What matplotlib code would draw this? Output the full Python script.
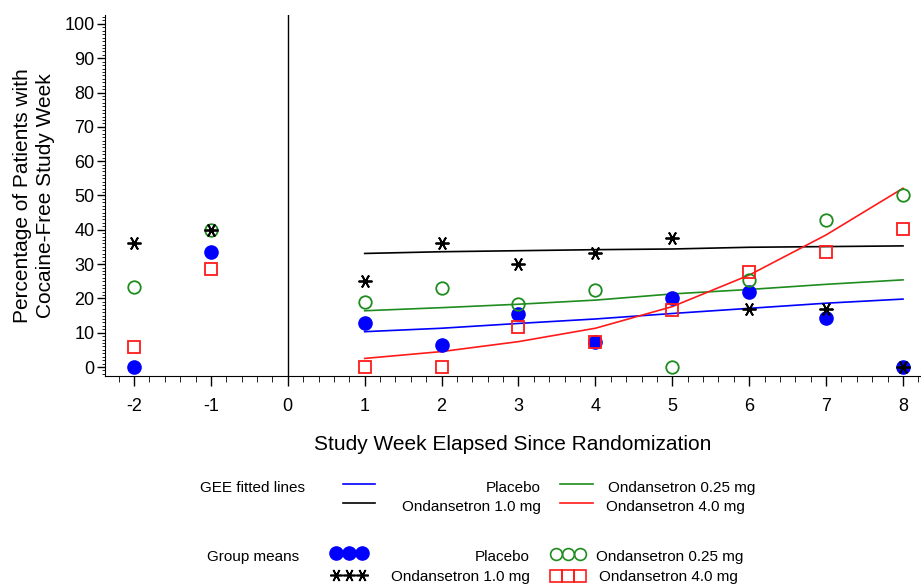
import matplotlib
matplotlib.use("Agg")
import matplotlib.pyplot as plt
from matplotlib.ticker import MultipleLocator

plt.rcParams['font.family'] = ['Liberation Sans', 'DejaVu Sans']
plt.rcParams['axes.unicode_minus'] = False

# group means per study week
weeks = [-2, -1, 1, 2, 3, 4, 5, 6, 7, 8]
placebo_mean = [0, 33.4, 12.7, 6.4, 15.5, 7.2, 20.0, 22.0, 14.3, 0]
ond025_mean = [23.2, 40.0, 18.9, 23.1, 18.4, 22.4, 0, 25.4, 42.9, 50.1]
ond10_mean = [36.2, 40.0, 25.0, 36.2, 30.0, 33.3, 37.5, 16.8, 16.8, 0]
ond40_mean = [5.9, 28.5, 0, 0, 11.8, 7.2, 16.6, 27.6, 33.4, 40.1]

# GEE fitted lines (weeks 1-8)
fit_weeks = [1, 2, 3, 4, 5, 6, 7, 8]
placebo_fit = [10.3, 11.3, 12.7, 14.0, 15.6, 17.1, 18.6, 19.8]
ond025_fit = [16.4, 17.3, 18.3, 19.5, 21.3, 22.6, 24.1, 25.4]
ond10_fit = [33.1, 33.6, 33.9, 34.2, 34.4, 34.9, 35.1, 35.3]
ond40_fit = [2.5, 4.5, 7.4, 11.3, 17.6, 26.8, 38.5, 52.1]

x_ticks = [-2, -1, 0, 1, 2, 3, 4, 5, 6, 7, 8]
y_ticks = [0, 10, 20, 30, 40, 50, 60, 70, 80, 90, 100]

BLUE = '#0000ff'
GREEN = '#1e8c1e'
RED = '#ff1a1a'
BLACK = '#000000'
ASTER = (6, 2, 90)

fig = plt.figure(figsize=(9.21, 5.85), dpi=100)
ax = fig.add_axes([105 / 921, 1 - 376 / 585, 1 - 105 / 921, (376 - 15) / 585])

ax.plot(fit_weeks, placebo_fit, color=BLUE, lw=1.2)
ax.plot(fit_weeks, ond025_fit, color=GREEN, lw=1.2)
ax.plot(fit_weeks, ond10_fit, color=BLACK, lw=1.2)
ax.plot(fit_weeks, ond40_fit, color=RED, lw=1.2)

ax.plot(weeks, placebo_mean, 'o', color=BLUE, ms=9.5, ls='none')
ax.plot(weeks, ond025_mean, 'o', mfc='none', mec=GREEN, mew=1.3, ms=9, ls='none')
ax.plot(weeks, ond10_mean, marker=ASTER, color=BLACK, mew=1.3, ms=10, ls='none')
ax.plot(weeks, ond40_mean, 's', mfc='none', mec=RED, mew=1.3, ms=8.5, ls='none')

ax.axvline(0, color='black', lw=1)

ax.set_xlim(-2.377, 8.234)
ax.set_ylim(-2.62, 102.6)
ax.set_xticks(x_ticks)
ax.set_yticks(y_ticks)
ax.xaxis.set_minor_locator(MultipleLocator(0.2))
ax.yaxis.set_minor_locator(MultipleLocator(1))
ax.tick_params(axis='both', which='major', labelsize=13, width=1)
ax.tick_params(axis='x', which='major', length=7, pad=9)
ax.tick_params(axis='x', which='minor', length=4)
ax.tick_params(axis='y', which='major', length=6, pad=1.5)
ax.tick_params(axis='y', which='minor', length=2.5)
ax.spines['top'].set_visible(False)
ax.spines['right'].set_visible(False)

ax.set_xlabel('Study Week Elapsed Since Randomization', fontsize=15, labelpad=14)
ax.set_ylabel('Percentage of Patients with\nCocaine-Free Study Week', fontsize=15,
              labelpad=7, linespacing=1.25)

# legend block below the plot, in pixel coordinates
lg = fig.add_axes([0, 0, 1, 1])
lg.set_xlim(0, 921)
lg.set_ylim(585, 0)
lg.axis('off')
fs = 11

lg.text(200, 488, 'GEE fitted lines', fontsize=fs, va='center', ha='left')
lg.plot([343, 375], [484, 484], color=BLUE, lw=1.2)
lg.plot([343, 375], [503, 503], color=BLACK, lw=1.2)
lg.text(541, 488, 'Placebo', fontsize=fs, va='center', ha='right')
lg.text(541, 507, 'Ondansetron 1.0 mg', fontsize=fs, va='center', ha='right')
lg.plot([560, 593], [484, 484], color=GREEN, lw=1.2)
lg.plot([560, 593], [503, 503], color=RED, lw=1.2)
lg.text(755, 488, 'Ondansetron 0.25 mg', fontsize=fs, va='center', ha='right')
lg.text(745, 507, 'Ondansetron 4.0 mg', fontsize=fs, va='center', ha='right')

lg.text(207, 557, 'Group means', fontsize=fs, va='center', ha='left')
lg.plot([336, 349, 362], [553, 553, 553], 'o', color=BLUE, ms=9.5, ls='none')
lg.plot([336, 349, 362], [575, 575, 575], marker=ASTER, color=BLACK, ms=9,
        mew=1.2, ls='none')
lg.text(530, 557, 'Placebo', fontsize=fs, va='center', ha='right')
lg.text(530, 577, 'Ondansetron 1.0 mg', fontsize=fs, va='center', ha='right')
lg.plot([556, 568, 580], [554, 554, 554], 'o', mfc='none', mec=GREEN, mew=1.2,
        ms=8.5, ls='none')
lg.plot([556, 568, 580], [576, 576, 576], 's', mfc='none', mec=RED, mew=1.2,
        ms=8.5, ls='none')
lg.text(743, 557, 'Ondansetron 0.25 mg', fontsize=fs, va='center', ha='right')
lg.text(738, 577, 'Ondansetron 4.0 mg', fontsize=fs, va='center', ha='right')

fig.savefig('out.png', dpi=100)
